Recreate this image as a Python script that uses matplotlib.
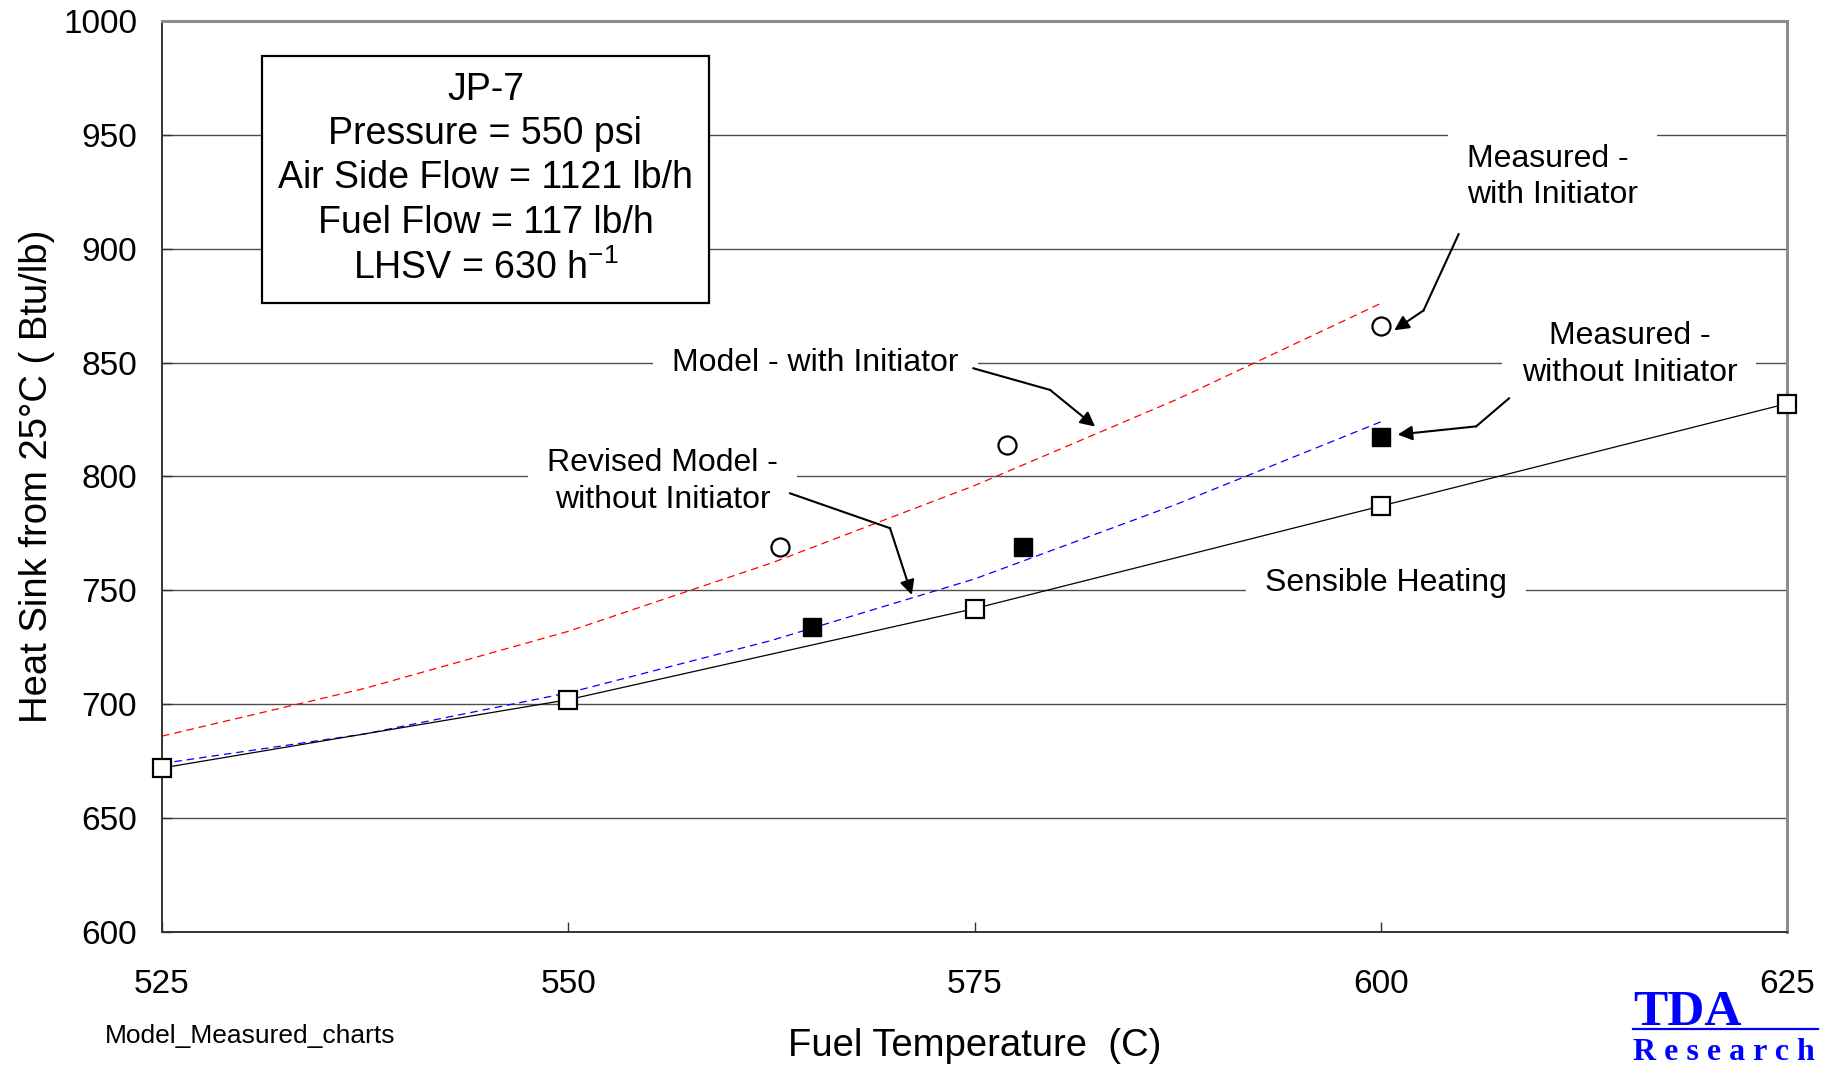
"""
Heat sink vs fuel temperature for JP-7: model curves and measured points.
"""

import matplotlib
matplotlib.use("Agg")
import matplotlib.pyplot as plt
from matplotlib.lines import Line2D

plt.rcParams["font.family"] = ["Liberation Sans", "DejaVu Sans"]
plt.rcParams["mathtext.fontset"] = "custom"
plt.rcParams["mathtext.rm"] = "Liberation Sans"
plt.rcParams["mathtext.default"] = "regular"

# --- data ---
sens_temp = [525, 550, 575, 600, 625]
sens_heat = [672, 702, 742, 787, 832]

meas_init_temp = [563, 577, 600]
meas_init_heat = [769, 814, 866]

meas_noinit_temp = [565, 578, 600]
meas_noinit_heat = [734, 769, 817.5]

model_temp = [525, 537.5, 550, 562.5, 575, 587.5, 600]
model_init_heat = [686, 707, 732, 762, 796, 834, 876]
model_noinit_heat = [674, 687, 705, 728, 755, 788, 824]

x_ticks = [525, 550, 575, 600, 625]
y_ticks = [600, 650, 700, 750, 800, 850, 900, 950, 1000]

box_text = "JP-7\nPressure = 550 psi\nAir Side Flow = 1121 lb/h\nFuel Flow = 117 lb/h\nLHSV = 630 h$^{-1}$"

fig = plt.figure(figsize=(18.37, 10.65), dpi=100)
ax = fig.add_axes([0.0882, 0.1249, 0.8846, 0.8554])

ax.set_xlim(525, 625)
ax.set_ylim(600, 1000)
ax.set_xticks(x_ticks)
ax.set_yticks(y_ticks)
ax.tick_params(axis="both", direction="in", length=7, width=1, labelsize=24, color="#333333")
ax.tick_params(axis="x", pad=27)
ax.tick_params(axis="y", pad=18)

ax.grid(axis="y", color="#4d4d4d", lw=1.0)
ax.set_axisbelow(True)

for side in ("left", "bottom"):
    ax.spines[side].set_color("#333333")
    ax.spines[side].set_linewidth(1.4)
for side in ("top", "right"):
    ax.spines[side].set_color("#8c8c8c")
    ax.spines[side].set_linewidth(2.2)

# model curves
ax.plot(model_temp, model_init_heat, color="red", lw=0.9, dashes=(6, 4), zorder=4)
ax.plot(model_temp, model_noinit_heat, color="blue", lw=0.9, dashes=(6, 4), zorder=4)

# sensible heating
ax.plot(sens_temp, sens_heat, color="black", lw=0.9, marker="s", ms=13,
        mfc="white", mec="black", mew=1.6, zorder=5, clip_on=False)

# measured points
ax.plot(meas_init_temp, meas_init_heat, ls="none", marker="o", ms=13,
        mfc="white", mec="black", mew=1.6, zorder=5)
ax.plot(meas_noinit_temp, meas_noinit_heat, ls="none", marker="s", ms=13,
        mfc="black", mec="black", zorder=5)

ax.set_xlabel("Fuel Temperature  (C)", fontsize=27.5)
ax.set_ylabel("Heat Sink from 25°C ( Btu/lb)", fontsize=27.5)
ax.xaxis.label.set_verticalalignment("center")
ax.yaxis.label.set_verticalalignment("center")
ax.xaxis.set_label_coords(0.5, -0.125)
ax.yaxis.set_label_coords(-0.077, 0.5)

# info box
ax.text(0.199, 0.826, box_text, transform=ax.transAxes, ha="center", va="center",
        fontsize=27, linespacing=1.3, zorder=6,
        bbox=dict(boxstyle="square,pad=0.42", fc="white", ec="black", lw=1.6))

# callout labels
label_box = dict(boxstyle="square,pad=0.6", fc="white", ec="none")
ax.text(565.2, 849.8, "Model - with Initiator", fontsize=23, ha="center", va="center",
        bbox=label_box, zorder=3)
ax.text(555.8, 797.8, "Revised Model -\nwithout Initiator", fontsize=23, ha="center",
        va="center", linespacing=1.3, bbox=label_box, zorder=3)
ax.text(600.3, 753.1, "Sensible Heating", fontsize=23, ha="center", va="center",
        bbox=label_box, zorder=3)
ax.text(605.3, 931.5, "Measured -\nwith Initiator", fontsize=23, ha="left", va="center",
        linespacing=1.3, bbox=label_box, zorder=3)
ax.text(615.3, 853.4, "Measured -\nwithout Initiator", fontsize=23, ha="center",
        va="center", linespacing=1.3, bbox=label_box, zorder=3)

# bent leader arrows: start, bend, tip
arrows = [
    [(574.93, 847.5), (579.65, 838.0), (582.42, 821.9)],
    [(563.65, 792.6), (569.8, 777.3), (571.14, 748.0)],
    [(604.79, 906.4), (602.63, 872.9), (600.83, 864.2)],
    [(607.89, 834.3), (605.87, 822.0), (601.04, 818.4)],
]
for (p0, p1, p2) in arrows:
    ax.plot([p0[0], p1[0]], [p0[1], p1[1]], color="black", lw=1.5, zorder=6)
    ax.annotate("", xy=p2, xytext=p1,
                arrowprops=dict(arrowstyle="-|>", color="black", lw=1.5,
                                mutation_scale=22, shrinkA=0, shrinkB=0),
                zorder=6)

# footer
fig.text(105 / 1837, 1 - 1036 / 1065, "Model_Measured_charts", fontsize=19,
         ha="left", va="center")

# TDA logo
fig.text(1633 / 1837, 1 - 1025 / 1065, "TDA", fontsize=37, fontweight="bold",
         family="Liberation Serif", color="blue", ha="left", va="baseline")
fig.add_artist(Line2D([1633 / 1837, 1818 / 1837], [1 - 1029 / 1065, 1 - 1029 / 1065],
                      color="blue", lw=1.6, transform=fig.transFigure))
fig.text(1633 / 1837, 1 - 1060 / 1065, "R e s e a r c h", fontsize=23, fontweight="bold",
         family="Liberation Serif", color="blue", ha="left", va="baseline")

fig.savefig("out.png", dpi=100)
